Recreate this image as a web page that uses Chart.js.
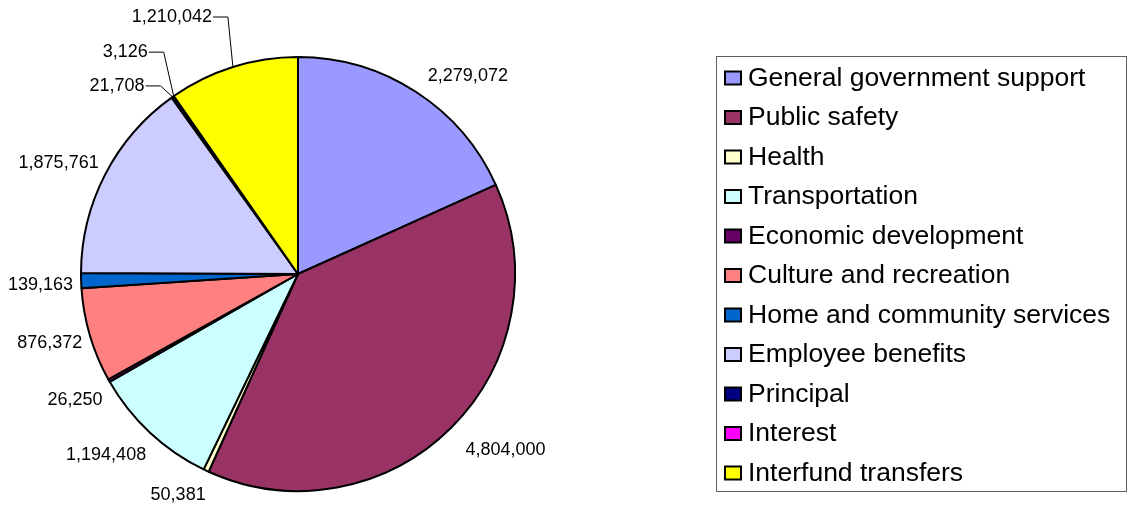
<!DOCTYPE html>
<html>
<head>
<meta charset="utf-8">
<script src="https://cdn.jsdelivr.net/npm/chart.js@4"></script>
<style>
  html, body { margin: 0; padding: 0; background: #ffffff; }
  #wrap { position: relative; width: 1132px; height: 506px; }
</style>
</head>
<body>
<div id="wrap"><canvas id="c" width="1132" height="506"></canvas></div>
<script>
// Expenditures by function
const categories = [
  'General government support',
  'Public safety',
  'Health',
  'Transportation',
  'Economic development',
  'Culture and recreation',
  'Home and community services',
  'Employee benefits',
  'Principal',
  'Interest',
  'Interfund transfers'
];
const amounts = [2279072, 4804000, 50381, 1194408, 26250, 876372, 139163, 1875761, 21708, 3126, 1210042];
const sliceColors = ['#9999FF', '#993366', '#FFFFCC', '#CCFFFF', '#660066', '#FF8080', '#0066CC', '#CCCCFF', '#000080', '#FF00FF', '#FFFF00'];

const valueLabels = amounts.map(v => v.toLocaleString('en-US'));

// Thin slices get a bent leader line: offset of the bend from the slice edge
const leaderBends = { 8: [-12, -11], 9: [-10, -44], 10: [-5, -50] };

const FONT = '"Liberation Sans", Arial, sans-serif';

const valueLabelPlugin = {
  id: 'valueLabels',
  afterDatasetsDraw(chart) {
    const ctx = chart.ctx;
    const meta = chart.getDatasetMeta(0);
    ctx.save();
    ctx.font = '18px ' + FONT;
    ctx.fillStyle = '#000';
    meta.data.forEach((arc, i) => {
      const p = arc.getProps(['x', 'y', 'startAngle', 'endAngle', 'outerRadius'], true);
      const mid = (p.startAngle + p.endAngle) / 2;
      const cos = Math.cos(mid), sin = Math.sin(mid);
      const text = valueLabels[i];
      const bend = leaderBends[i];
      if (bend) {
        const ex = p.x + p.outerRadius * cos, ey = p.y + p.outerRadius * sin;
        const bx = ex + bend[0], by = ey + bend[1];
        const tx = bx - 15;
        ctx.strokeStyle = '#000';
        ctx.lineWidth = 1;
        ctx.beginPath();
        ctx.moveTo(ex, ey);
        ctx.lineTo(bx, by);
        ctx.lineTo(tx, by);
        ctx.stroke();
        ctx.textAlign = 'right';
        ctx.textBaseline = 'middle';
        ctx.fillText(text, tx - 1, by);
      } else {
        const R = p.outerRadius + 13;
        const px = p.x + R * cos + 5, py = p.y + R * sin + 4;
        ctx.textAlign = cos >= 0 ? 'left' : 'right';
        if (Math.abs(sin) < 0.3) ctx.textBaseline = 'middle';
        else ctx.textBaseline = sin > 0 ? 'top' : 'bottom';
        ctx.fillText(text, px, py);
      }
    });
    ctx.restore();
  }
};

// Boxed legend on the right-hand side
const boxedLegendPlugin = {
  id: 'boxedLegend',
  afterDraw(chart) {
    const ctx = chart.ctx;
    const left = 716.5, top = 56.5, right = 1126.5, bottom = 491.5;
    ctx.save();
    ctx.strokeStyle = '#606060';
    ctx.lineWidth = 1;
    ctx.strokeRect(left, top, right - left, bottom - top);
    ctx.font = '26.5px ' + FONT;
    ctx.textAlign = 'left';
    ctx.textBaseline = 'middle';
    categories.forEach((name, i) => {
      const cy = 77.5 + i * 39.5;
      ctx.fillStyle = sliceColors[i];
      ctx.fillRect(725, cy - 6, 16, 13);
      ctx.strokeStyle = '#000';
      ctx.lineWidth = 2;
      ctx.strokeRect(725, cy - 6, 16, 13);
      ctx.fillStyle = '#000';
      ctx.fillText(name, 748, cy + 1);
    });
    ctx.restore();
  }
};

new Chart(document.getElementById('c'), {
  type: 'pie',
  data: {
    labels: categories,
    datasets: [{
      data: amounts,
      backgroundColor: sliceColors,
      borderColor: '#000000',
      borderWidth: 2
    }]
  },
  options: {
    responsive: false,
    animation: false,
    layout: { padding: { left: 80, right: 616, top: 56, bottom: 14 } },
    plugins: {
      legend: { display: false },
      tooltip: { enabled: false }
    }
  },
  plugins: [valueLabelPlugin, boxedLegendPlugin]
});
</script>
</body>
</html>
